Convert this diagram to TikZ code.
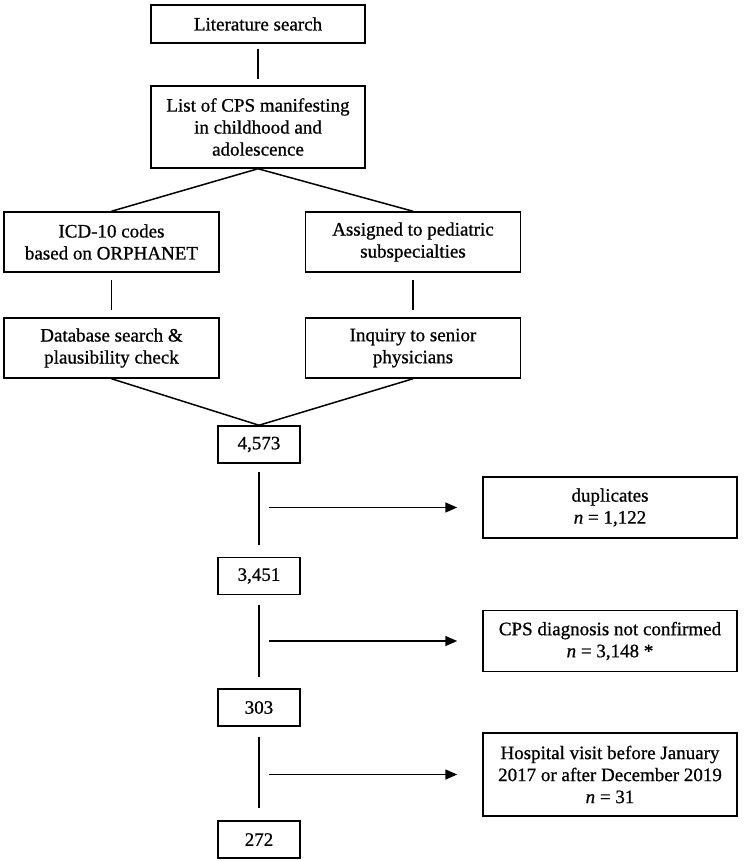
\documentclass[tikz,border=0pt]{standalone}
\usepackage{fontspec}
\setmainfont{Liberation Serif}
\newfontfamily\chartfont{Liberation Serif}[FakeBold=0.8]
\usetikzlibrary{arrows.meta,calc}
\begin{document}
\begin{tikzpicture}[x=0.5pt,y=-0.5pt,
    box/.style={draw,line width=0.75pt,align=center,inner sep=0pt,
      font=\chartfont\fontsize{9.5pt}{11pt}\selectfont},
    wide/.style={box,minimum width=107.5pt,minimum height=30pt},
    count/.style={box,minimum width=41pt,minimum height=18.5pt},
    side/.style={box,minimum width=127pt,minimum height=30.5pt},
    link/.style={line width=0.75pt},
    arr/.style={line width=0.75pt,-{Triangle[length=6pt,width=5pt]},shorten >=12.5pt}]
      \useasboundingbox (0,0) rectangle (749,861);
      \node[box,minimum width=107pt,minimum height=19pt] (lit) at (258,24) {Literature search};
      \node[box,minimum width=107pt,minimum height=41pt] (list) at (258,127) {List of CPS manifesting\\in childhood and\\adolescence};
      \node[wide] (icd) at (111.5,242) {ICD-10 codes\\based on ORPHANET};
      \node[wide] (assign) at (413,242) {Assigned to pediatric\\subspecialties};
      \node[wide] (dbs) at (111.5,348) {Database search \&\\plausibility check};
      \node[wide] (inq) at (413,348) {Inquiry to senior\\physicians};
      \node[count] (n1) at (259,444.5) {4,573};
      \node[count] (n2) at (259,576) {3,451};
      \node[count] (n3) at (259,707.5) {303};
      \node[count] (n4) at (259,839.5) {272};
      \node[side] (dup) at (610,507.5) {duplicates\\\textit{n} = 1,122};
      \node[side] (cps) at (610,641) {CPS diagnosis not confirmed\\\textit{n} = 3,148 *};
      \node[side,minimum height=41.5pt] (hosp) at (610,774.5) {Hospital visit before January\\2017 or after December 2019\\\textit{n} = 31};
      \draw[link,shorten <=2.5pt,shorten >=3pt] (lit) -- (list);
      \draw[link] (list.south) -- (icd.north);
      \draw[link] (list.south) -- (assign.north);
      \draw[link,shorten <=3.5pt,shorten >=3.5pt] (icd) -- (dbs);
      \draw[link,shorten <=3.5pt,shorten >=3.5pt] (assign) -- (inq);
      \draw[link] (dbs.south) -- (n1.north);
      \draw[link] (inq.south) -- (n1.north);
      \draw[link,shorten <=4pt,shorten >=6pt] (n1) -- (n2);
      \draw[link,shorten <=5pt,shorten >=5.5pt] (n2) -- (n3);
      \draw[link,shorten <=5pt,shorten >=6pt] (n3) -- (n4);
      \draw[arr] ($(dup.west -| n1)+(5pt,0)$) -- (dup.west);
      \draw[arr] ($(cps.west -| n2)+(5pt,0)$) -- (cps.west);
      \draw[arr] ($(hosp.west -| n3)+(5pt,0)$) -- (hosp.west);
    \end{tikzpicture}
\end{document}
